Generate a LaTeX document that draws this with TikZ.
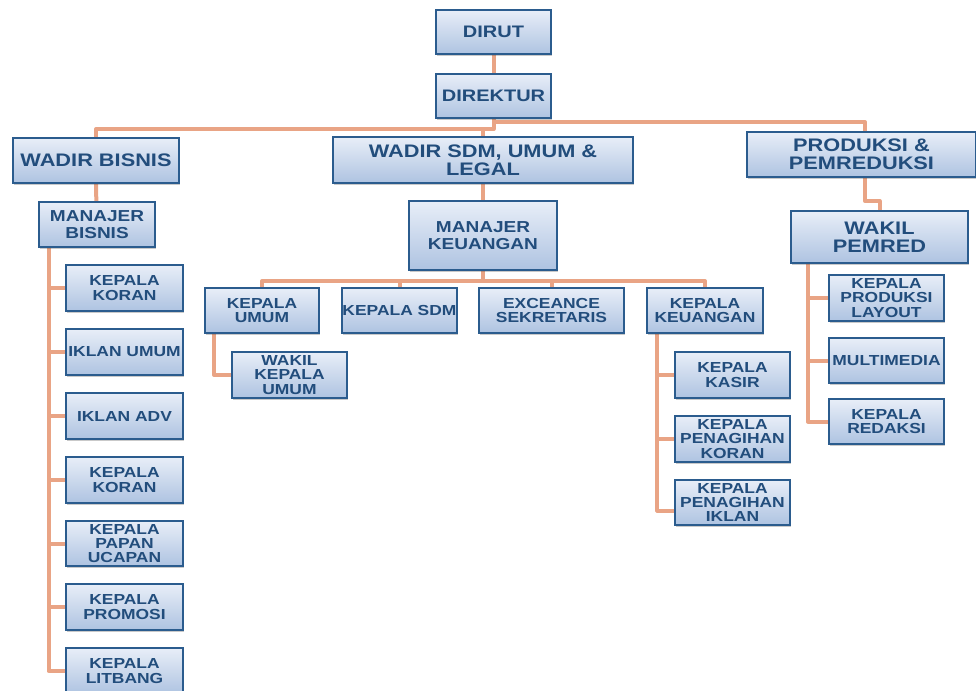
\documentclass[tikz,border=0pt]{standalone}
\usepackage{fontspec}
\newfontfamily\bxfont[FakeStretch=1.2]{Liberation Sans}
\usetikzlibrary{shadows,backgrounds}
\definecolor{bxline}{HTML}{2B5C8E}
\definecolor{bxtext}{HTML}{224D7C}
\definecolor{bxtop}{HTML}{E8EEF8}
\definecolor{bxbot}{HTML}{AEC3E1}
\definecolor{conncol}{HTML}{E9A485}
\tikzset{
  box/.style={draw=bxline, line width=1.5pt, top color=bxtop, bottom color=bxbot,
    inner sep=0pt, align=center, text=bxtext,
    font=\bxfont\bfseries,
    drop shadow={shadow xshift=0.9pt, shadow yshift=-1.6pt, opacity=0.3, fill=black!70}},
  fsmall/.style={font=\bxfont\bfseries\fontsize{10.9}{10.6}\selectfont},
  fmid/.style={font=\bxfont\bfseries\fontsize{11.9}{12.2}\selectfont},
  fbig/.style={font=\bxfont\bfseries\fontsize{13.6}{13.6}\selectfont},
  ftop/.style={font=\bxfont\bfseries\fontsize{12.5}{12.5}\selectfont},
  conn/.style={draw=conncol, line width=3pt, line join=round}
}
\newcommand\orgbox[7]{%
  \node[box,#6, minimum width={(#4-#2)*0.75pt}, minimum height={(#5-#3)*0.75pt}]
    (#1) at ({(#2+#4)/2},{(#3+#5)/2}) {#7};}
\begin{document}
\begin{tikzpicture}[x=0.75pt,y=-0.75pt]
\useasboundingbox (0,0) rectangle (976,690);
% top
\orgbox{dirut}{436}{10}{551}{54}{ftop}{DIRUT}
\orgbox{direktur}{436}{74}{551}{118}{ftop}{DIREKTUR}
\orgbox{wbisnis}{13}{138}{179}{183}{fbig}{WADIR BISNIS}
\orgbox{wsdm}{333}{137}{633}{183}{fbig}{WADIR SDM, UMUM \&\\LEGAL}
\orgbox{prod}{747}{132}{976}{177}{fbig}{PRODUKSI \&\\PEMREDUKSI}
\orgbox{mbisnis}{39}{202}{155}{247}{fmid}{MANAJER\\BISNIS}
\orgbox{mkeu}{409}{201}{557}{270}{fmid}{MANAJER\\KEUANGAN}
\orgbox{wpemred}{791}{211}{968}{263}{fbig}{WAKIL\\PEMRED}
% left column
\orgbox{l1}{66}{265}{183}{311}{fsmall}{KEPALA\\KORAN}
\orgbox{l2}{66}{329}{183}{375}{fsmall}{IKLAN UMUM}
\orgbox{l3}{66}{393}{183}{439}{fsmall}{IKLAN ADV}
\orgbox{l4}{66}{457}{183}{503}{fsmall}{KEPALA\\KORAN}
\orgbox{l5}{66}{521}{183}{566}{fsmall}{KEPALA\\PAPAN\\UCAPAN}
\orgbox{l6}{66}{584}{183}{630}{fsmall}{KEPALA\\PROMOSI}
\orgbox{l7}{66}{648}{183}{694}{fsmall}{KEPALA\\LITBANG}
% middle row
\orgbox{kumum}{205}{288}{319}{333}{fsmall}{KEPALA\\UMUM}
\orgbox{ksdm}{342}{288}{457}{333}{fsmall}{KEPALA SDM}
\orgbox{ksek}{479}{288}{624}{333}{fsmall}{EXCEANCE\\SEKRETARIS}
\orgbox{kkeu}{647}{288}{763}{333}{fsmall}{KEPALA\\KEUANGAN}
\orgbox{wkumum}{232}{352}{347}{398}{fsmall}{WAKIL\\KEPALA\\UMUM}
\orgbox{kasir}{675}{352}{790}{398}{fsmall}{KEPALA\\KASIR}
\orgbox{pkoran}{675}{416}{790}{462}{fsmall}{KEPALA\\PENAGIHAN\\KORAN}
\orgbox{piklan}{675}{480}{790}{525}{fsmall}{KEPALA\\PENAGIHAN\\IKLAN}
% right column
\orgbox{r1}{829}{275}{944}{321}{fsmall}{KEPALA\\PRODUKSI\\LAYOUT}
\orgbox{r2}{829}{338}{944}{383}{fsmall}{MULTIMEDIA}
\orgbox{r3}{829}{399}{944}{444}{fsmall}{KEPALA\\REDAKSI}
% connectors
\begin{pgfonlayer}{background}
\draw[conn] (dirut.south) -- (direktur.south);
\draw[conn] (direktur.south) -- ++(0,10) coordinate (busl) -| (wbisnis.north);
\draw[conn] (wsdm.north) -- (wsdm.north |- busl);
\draw[conn] (direktur.south) -- ++(0,3) -| ([xshift=2.5pt]prod.north);
\draw[conn] ([xshift=2.5pt]prod.south) -- ++(0,23) -| (wpemred.north);
\draw[conn] (wbisnis.south) -- ([xshift=-0.5pt]mbisnis.north);
\draw[conn] (wsdm.south) -- (mkeu.north);
% left column
\coordinate (lv) at ([xshift=8pt]mbisnis.south west);
\foreach \n in {l1,l2,l3,l4,l5,l6,l7} \draw[conn] (lv) |- (\n.west);
% middle bus
\draw[conn] (mkeu.south) -- ++(0,10) coordinate (busm);
\foreach \n in {kumum,ksdm,ksek,kkeu} \draw[conn] (busm) -| (\n.north);
\draw[conn] ([xshift=7.5pt]kumum.south west) |- (wkumum.west);
\coordinate (kv) at ([xshift=8.5pt]kkeu.south west);
\foreach \n in {kasir,pkoran} \draw[conn] (kv) |- (\n.west);
\draw[conn] (kv) |- ([yshift=-6pt]piklan.west);
% right column
\coordinate (rv) at ([xshift=13.5pt]wpemred.south west);
\foreach \n in {r1,r2,r3} \draw[conn] (rv) |- (\n.west);
\end{pgfonlayer}
\end{tikzpicture}
\end{document}
